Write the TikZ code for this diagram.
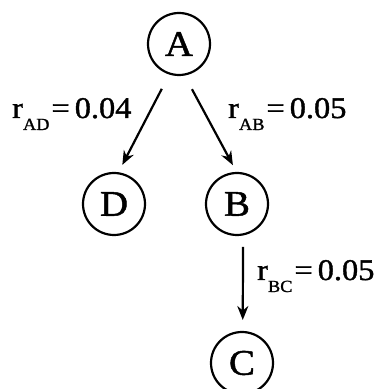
\documentclass[tikz,border=0pt]{standalone}
\usepackage{fontspec}
\setmainfont{Liberation Serif}
\newfontfamily\heavy[FakeBold=1.3,FakeStretch=1.08]{Liberation Serif}
\usetikzlibrary{calc,arrows.meta}
\begin{document}
\begin{tikzpicture}[x=1pt,y=1pt,
  st/.style={circle,draw,line width=2.2pt,minimum size=62pt,inner sep=0pt,font=\heavy\fontsize{36}{36}\selectfont},
  arr/.style={line width=2.2pt,-{Stealth[length=14pt,width=11pt]}},
  lab/.style={anchor=base west,inner sep=0pt,font=\heavy\fontsize{30}{30}\selectfont}]
\useasboundingbox (0,0) rectangle (377,389);
\node[st] (A) at (179,345) {A};
\node[st] (D) at (114,185) {D};
\node[st] (B) at (237,185) {B};
\node[st] (C) at (242,26) {C};
\draw[arr] ($(A)+(249:48)$) -- ($(D)+(78:40)$);
\draw[arr] ($(A)+(286:47)$) -- ($(B)+(96:39)$);
\draw[arr] ($(B)+(278:43.4)$) -- ($(C)+(89:43)$);
\newcommand{\subl}[1]{\raisebox{-12pt}{\fontsize{17}{17}\selectfont #1}}
\node[lab] (lad) at (12,271) {r\subl{AD}\kern2pt=\kern5pt0.04};
\node[lab] (lab) at (228,271) {r\subl{AB}\kern2pt=\kern5pt0.05};
\node[lab] (lbc) at (257,109) {r\subl{BC}\kern2pt=\kern5pt0.05};
\end{tikzpicture}
\end{document}
